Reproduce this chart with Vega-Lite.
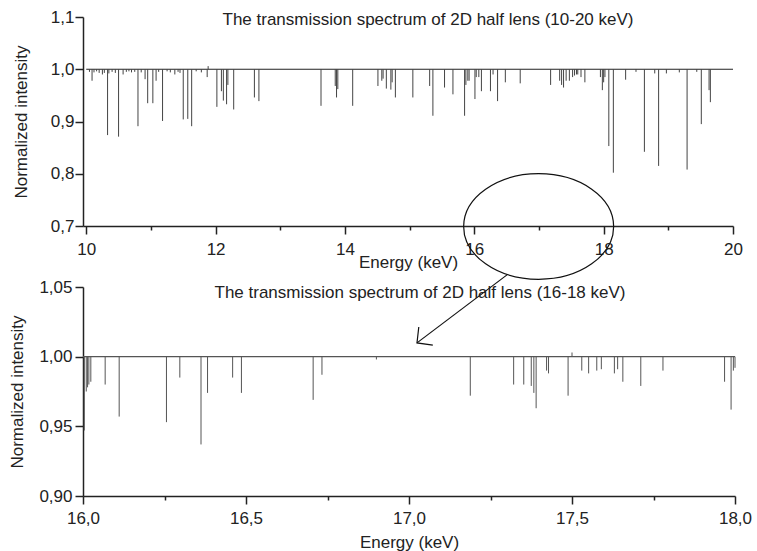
{
  "$schema": "https://vega.github.io/schema/vega-lite/v6.json",
  "autosize": {"type": "pad"},
  "padding": {"left": 8, "top": 8, "right": 5, "bottom": 5},
  "bounds": "flush",
  "spacing": 61,
  "datasets": {
    "top": [
      {"E": 10.05, "I": 0.995}, {"E": 10.09, "I": 0.978}, {"E": 10.12, "I": 0.994}, {"E": 10.16, "I": 0.996},
      {"E": 10.2, "I": 0.993}, {"E": 10.25, "I": 0.99}, {"E": 10.28, "I": 0.993}, {"E": 10.33, "I": 0.874},
      {"E": 10.35, "I": 0.992}, {"E": 10.4, "I": 0.995}, {"E": 10.45, "I": 0.993}, {"E": 10.5, "I": 0.871},
      {"E": 10.57, "I": 0.99}, {"E": 10.62, "I": 0.995}, {"E": 10.66, "I": 0.996}, {"E": 10.7, "I": 0.994},
      {"E": 10.75, "I": 0.995}, {"E": 10.8, "I": 0.891}, {"E": 10.85, "I": 0.994}, {"E": 10.91, "I": 0.981},
      {"E": 10.95, "I": 0.935}, {"E": 11.03, "I": 0.935}, {"E": 11.08, "I": 0.978}, {"E": 11.12, "I": 0.995},
      {"E": 11.18, "I": 0.901}, {"E": 11.25, "I": 0.996}, {"E": 11.3, "I": 0.994}, {"E": 11.37, "I": 0.99},
      {"E": 11.42, "I": 0.995}, {"E": 11.45, "I": 0.993}, {"E": 11.5, "I": 0.904}, {"E": 11.57, "I": 0.905},
      {"E": 11.63, "I": 0.891}, {"E": 11.7, "I": 0.996}, {"E": 11.78, "I": 0.994}, {"E": 11.87, "I": 0.985},
      {"E": 11.885, "I": 1.006}, {"E": 12.02, "I": 0.928}, {"E": 12.09, "I": 0.958}, {"E": 12.12, "I": 0.94},
      {"E": 12.17, "I": 0.933}, {"E": 12.19, "I": 0.97}, {"E": 12.28, "I": 0.923}, {"E": 12.6, "I": 0.946},
      {"E": 12.67, "I": 0.939}, {"E": 13.63, "I": 0.93}, {"E": 13.85, "I": 0.968}, {"E": 13.87, "I": 0.946},
      {"E": 13.89, "I": 0.962}, {"E": 14.12, "I": 0.93}, {"E": 14.51, "I": 0.968}, {"E": 14.57, "I": 0.978},
      {"E": 14.59, "I": 0.982}, {"E": 14.64, "I": 0.963}, {"E": 14.71, "I": 0.961}, {"E": 14.73, "I": 0.975},
      {"E": 14.78, "I": 0.946}, {"E": 15.05, "I": 0.946}, {"E": 15.31, "I": 0.968}, {"E": 15.36, "I": 0.911},
      {"E": 15.54, "I": 0.965}, {"E": 15.67, "I": 0.952}, {"E": 15.85, "I": 0.911}, {"E": 15.87, "I": 0.97},
      {"E": 15.9, "I": 0.978}, {"E": 15.92, "I": 0.978}, {"E": 16.01, "I": 0.943}, {"E": 16.03, "I": 0.985},
      {"E": 16.07, "I": 0.985}, {"E": 16.11, "I": 0.958}, {"E": 16.25, "I": 0.958}, {"E": 16.29, "I": 0.99},
      {"E": 16.36, "I": 0.939}, {"E": 16.48, "I": 0.975}, {"E": 16.71, "I": 0.973}, {"E": 17.18, "I": 0.97},
      {"E": 17.32, "I": 0.978}, {"E": 17.35, "I": 0.97}, {"E": 17.38, "I": 0.965}, {"E": 17.42, "I": 0.978},
      {"E": 17.47, "I": 0.978}, {"E": 17.52, "I": 0.985}, {"E": 17.55, "I": 0.988}, {"E": 17.58, "I": 0.99},
      {"E": 17.6, "I": 0.99}, {"E": 17.65, "I": 0.985}, {"E": 17.71, "I": 0.975}, {"E": 17.95, "I": 0.985},
      {"E": 17.98, "I": 0.96}, {"E": 18.0, "I": 0.975}, {"E": 18.02, "I": 0.985}, {"E": 18.08, "I": 0.853},
      {"E": 18.15, "I": 0.802}, {"E": 18.34, "I": 0.98}, {"E": 18.5, "I": 0.995}, {"E": 18.63, "I": 0.842},
      {"E": 18.79, "I": 0.992}, {"E": 18.85, "I": 0.815}, {"E": 18.97, "I": 0.992}, {"E": 19.17, "I": 0.994},
      {"E": 19.29, "I": 0.808}, {"E": 19.44, "I": 0.995}, {"E": 19.51, "I": 0.895}, {"E": 19.63, "I": 0.96},
      {"E": 19.65, "I": 0.937}
    ],
    "bottom": [
      {"E": 16.004, "I": 0.947}, {"E": 16.01, "I": 0.975}, {"E": 16.014, "I": 0.978}, {"E": 16.018, "I": 0.98},
      {"E": 16.024, "I": 0.982}, {"E": 16.068, "I": 0.98}, {"E": 16.111, "I": 0.957}, {"E": 16.256, "I": 0.953},
      {"E": 16.297, "I": 0.985}, {"E": 16.362, "I": 0.937}, {"E": 16.382, "I": 0.974}, {"E": 16.459, "I": 0.985},
      {"E": 16.486, "I": 0.974}, {"E": 16.706, "I": 0.969}, {"E": 16.733, "I": 0.987}, {"E": 16.9, "I": 0.998},
      {"E": 17.188, "I": 0.972}, {"E": 17.321, "I": 0.98}, {"E": 17.352, "I": 0.98}, {"E": 17.375, "I": 0.979},
      {"E": 17.383, "I": 0.974}, {"E": 17.39, "I": 0.963}, {"E": 17.422, "I": 0.99}, {"E": 17.428, "I": 0.988},
      {"E": 17.488, "I": 0.972}, {"E": 17.5, "I": 1.003}, {"E": 17.53, "I": 0.99}, {"E": 17.551, "I": 0.988},
      {"E": 17.576, "I": 0.99}, {"E": 17.59, "I": 0.991}, {"E": 17.63, "I": 0.988}, {"E": 17.64, "I": 0.991},
      {"E": 17.656, "I": 0.982}, {"E": 17.711, "I": 0.979}, {"E": 17.779, "I": 0.99}, {"E": 17.968, "I": 0.982},
      {"E": 17.988, "I": 0.962}, {"E": 17.995, "I": 0.99}, {"E": 18.0, "I": 0.992}
    ]
  },
  "vconcat": [
    {
      "width": 650,
      "height": 209,
      "title": {"text": "The transmission spectrum of 2D half lens (10-20 keV)", "frame": "group", "anchor": "middle", "dx": 20, "offset": -21, "baseline": "top"},
      "layer": [
        {
          "data": {"values": [{}]},
          "mark": {"type": "rule", "color": "#222", "strokeWidth": 1.2},
          "encoding": {
            "x": {"datum": 10, "type": "quantitative",
              "scale": {"domain": [9.95, 20], "nice": false, "zero": false},
              "axis": {"title": "Energy (keV)", "values": [10, 11, 12, 13, 14, 15, 16, 17, 18, 19, 20],
                "tickSize": {"condition": {"test": "datum.value % 2 == 0", "value": 8}, "value": 4},
                "labelExpr": "datum.value % 2 == 0 ? format(datum.value, 'd') : ''",
                "labelPadding": 7, "titlePadding": -3}},
            "x2": {"datum": 20},
            "y": {"datum": 1, "type": "quantitative",
              "scale": {"domain": [0.7, 1.1], "nice": false, "zero": false},
              "axis": {"title": "Normalized intensity", "values": [0.7, 0.75, 0.8, 0.85, 0.9, 0.95, 1.0, 1.05, 1.1],
                "tickSize": {"condition": {"test": "abs(datum.value*10 - round(datum.value*10)) < 0.01", "value": 8}, "value": 4},
                "labelExpr": "abs(datum.value*10 - round(datum.value*10)) < 0.01 ? replace(format(datum.value, '.1f'), '.', ',') : ''",
                "labelPadding": 1, "titlePadding": 20}}
          }
        },
        {
          "data": {"name": "top"},
          "mark": {"type": "rule", "color": "#444", "strokeWidth": 1},
          "encoding": {
            "x": {"field": "E", "type": "quantitative"},
            "y": {"field": "I", "type": "quantitative"},
            "y2": {"datum": 1}
          }
        },
        {
          "data": {"values": [{}]},
          "mark": {"type": "point", "shape": "M -1 0 C -1 -0.3888 -0.5523 -0.704 0 -0.704 C 0.5523 -0.704 1 -0.3888 1 0 C 1 0.3888 0.5523 0.704 0 0.704 C -0.5523 0.704 -1 0.3888 -1 0 Z", "size": 22500, "filled": false, "color": "#111", "strokeWidth": 1.2, "opacity": 1, "clip": false},
          "encoding": {
            "x": {"datum": 16.995, "type": "quantitative"},
            "y": {"datum": 0.699, "type": "quantitative"}
          }
        }
      ]
    },
    {
      "width": 652,
      "height": 209,
      "title": {"text": "The transmission spectrum of 2D half lens (16-18 keV)", "frame": "group", "anchor": "middle", "dx": 11, "offset": -28, "baseline": "top"},
      "layer": [
        {
          "data": {"values": [{}]},
          "mark": {"type": "rule", "color": "#555", "strokeWidth": 1.2},
          "encoding": {
            "x": {"datum": 16, "type": "quantitative",
              "scale": {"domain": [16, 18], "nice": false, "zero": false},
              "axis": {"title": "Energy (keV)", "values": [16, 16.25, 16.5, 16.75, 17, 17.25, 17.5, 17.75, 18],
                "tickSize": {"condition": {"test": "abs(datum.value*2 - round(datum.value*2)) < 0.01", "value": 8}, "value": 4},
                "labelExpr": "abs(datum.value*2 - round(datum.value*2)) < 0.01 ? replace(format(datum.value, '.1f'), '.', ',') : ''",
                "labelPadding": 6, "titlePadding": 8}},
            "x2": {"datum": 18},
            "y": {"datum": 1, "type": "quantitative",
              "scale": {"domain": [0.9, 1.05], "nice": false, "zero": false},
              "axis": {"title": "Normalized intensity", "values": [0.9, 0.925, 0.95, 0.975, 1.0, 1.025, 1.05],
                "tickSize": {"condition": {"test": "abs(datum.value*20 - round(datum.value*20)) < 0.01", "value": 8}, "value": 4},
                "labelExpr": "abs(datum.value*20 - round(datum.value*20)) < 0.01 ? replace(format(datum.value, '.2f'), '.', ',') : ''",
                "labelPadding": 3, "titlePadding": 12}}
          }
        },
        {
          "data": {"name": "bottom"},
          "mark": {"type": "rule", "color": "#555", "strokeWidth": 1},
          "encoding": {
            "x": {"field": "E", "type": "quantitative"},
            "y": {"field": "I", "type": "quantitative"},
            "y2": {"datum": 1}
          }
        },
        {
          "data": {"values": [{}]},
          "mark": {"type": "rule", "color": "#111", "strokeWidth": 1.2, "clip": false},
          "encoding": {
            "x": {"datum": 17.3006, "type": "quantitative"},
            "y": {"datum": 1.0587, "type": "quantitative"},
            "x2": {"datum": 17.0245},
            "y2": {"datum": 1.0099}
          }
        },
        {
          "data": {"values": [{}]},
          "mark": {"type": "point", "shape": "M 0.1 -0.88 L 0 0 L 0.88 0.13", "size": 1296, "filled": false, "color": "#111", "strokeWidth": 1.2, "opacity": 1, "clip": false},
          "encoding": {
            "x": {"datum": 17.0245, "type": "quantitative"},
            "y": {"datum": 1.0099, "type": "quantitative"}
          }
        }
      ]
    }
  ],
  "config": {
    "view": {"stroke": null},
    "font": "Liberation Sans",
    "title": {"font": "Liberation Sans", "fontSize": 17, "fontWeight": "normal", "color": "#222"},
    "axis": {
      "grid": false, "domainColor": "#222", "domainWidth": 1.5, "tickColor": "#222", "tickWidth": 1.5,
      "labelFont": "Liberation Sans", "labelFontSize": 17, "labelColor": "#222",
      "titleFont": "Liberation Sans", "titleFontSize": 17, "titleFontWeight": "normal", "titleColor": "#222",
      "labelOverlap": false, "labelFlush": false, "labelBound": false
    }
  }
}
